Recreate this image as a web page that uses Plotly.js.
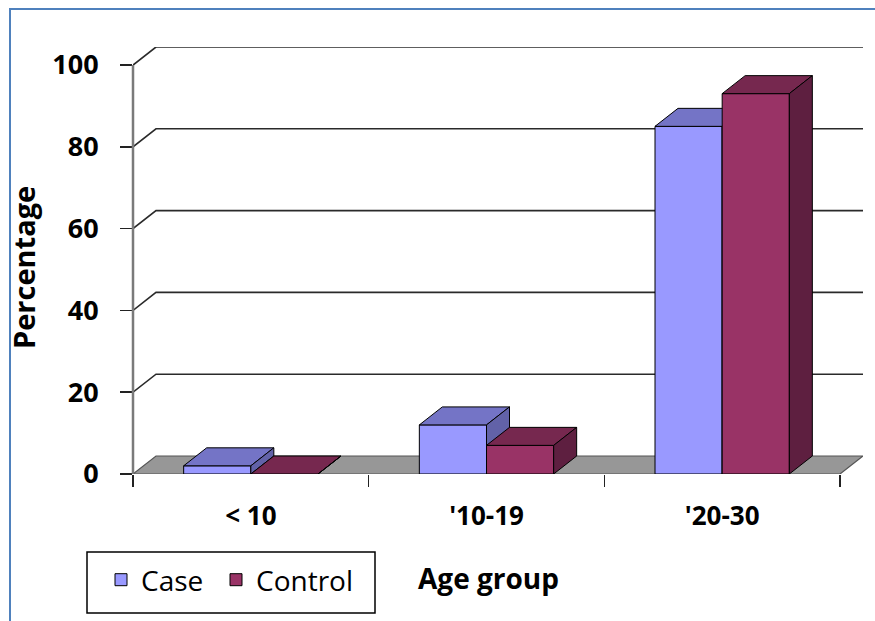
<!DOCTYPE html>
<html>
<head>
<meta charset="utf-8">
<script src="https://cdn.plot.ly/plotly-3.0.1.min.js"></script>
<style>html,body{margin:0;padding:0;background:#fff;}#chart{width:875px;height:621px;}</style>
</head>
<body>
<div id="chart"></div>
<script>
// ---- data ----
const categories = ['< 10', "'10-19", "'20-30"];
const caseValues = [2, 12, 85];
const controlValues = [0, 7, 93];
const yTickValues = [0, 20, 40, 60, 80, 100];
const seriesNames = ['Case', 'Control'];

// ---- styling / geometry constants ----
const W = 875, H = 621;
const M = {l: 133, r: 12, t: 47, b: 147};
const barW = 0.285;        // bar width in category units
const dx = 0.0976;         // depth offset (category units)
const dy = 4.4;            // depth offset (value units)
const FONT = '"Open Sans", "Noto Sans", sans-serif';
const colors = {
  Case:    {front: '#9999FF', top: '#7474C6', side: '#6262A8'},
  Control: {front: '#993366', top: '#76284F', side: '#5E1F40'}
};
const xIdx = categories.map((c, i) => i);
const xMin = -0.5, xMax = categories.length - 0.5 + dx;
const yMax = yTickValues[yTickValues.length - 1] + dy;

function faces(values, offset) {
  const top = {x: [], y: []}, side = {x: [], y: []};
  values.forEach((v, i) => {
    const x0 = i + offset, x1 = x0 + barW;
    top.x.push(x0, x1, x1 + dx, x0 + dx, x0, null);
    top.y.push(v, v, v + dy, v + dy, v, null);
    side.x.push(x1, x1, x1 + dx, x1 + dx, x1, null);
    side.y.push(0, v, v + dy, dy, 0, null);
  });
  return {top, side};
}

function seriesTraces(name, values, offset, xa, ya, legendWidth) {
  const c = colors[name];
  const f = faces(values, offset);
  const bar = {type: 'bar', name: name, x: xIdx, y: values, offset: offset, width: barW,
     xaxis: xa, yaxis: ya, marker: {color: c.front, line: {color: '#000', width: 1}},
     hoverinfo: 'skip'};
  if (legendWidth) bar.legendwidth = legendWidth;
  return [
    bar,
    {type: 'scatter', mode: 'lines', x: f.top.x, y: f.top.y, fill: 'toself', fillcolor: c.top,
     line: {color: '#000', width: 1}, xaxis: xa, yaxis: ya, showlegend: false, hoverinfo: 'skip'},
    {type: 'scatter', mode: 'lines', x: f.side.x, y: f.side.y, fill: 'toself', fillcolor: c.side,
     line: {color: '#000', width: 1}, xaxis: xa, yaxis: ya, showlegend: false, hoverinfo: 'skip'}
  ];
}

const traces = [].concat(
  seriesTraces(seriesNames[0], caseValues, -barW, 'x', 'y', 70),
  seriesTraces(seriesNames[1], controlValues, 0, 'x2', 'y2', null)
);

const pw = W - M.l - M.r, ph = H - M.t - M.b;
const px = v => (v - M.l) / pw, py = v => (H - M.b - v) / ph;

// gridlines on back wall + side wall diagonals, floor
const shapes = [];
const nCat = categories.length;
shapes.push({type: 'path', xref: 'x', yref: 'y', layer: 'below',
  path: `M ${xMin} 0 L ${nCat - 0.5} 0 L ${nCat - 0.5 + dx} ${dy} L ${xMin + dx} ${dy} Z`,
  fillcolor: '#979797', line: {color: '#555', width: 1.2}});
yTickValues.filter(v => v > 0).forEach(v => {
  shapes.push({type: 'path', xref: 'x', yref: 'y', layer: 'below',
    path: `M ${xMin} ${v} L ${xMin + dx} ${v + dy} L ${xMax} ${v + dy}`,
    line: {color: '#2a2a2a', width: 1.6}});
});
// front vertical axis line
shapes.push({type: 'line', xref: 'paper', yref: 'y', x0: 0, x1: 0, y0: 0, y1: 100,
  line: {color: '#7a7a7a', width: 2.5}, layer: 'above'});
// outer blue frame
shapes.push({type: 'rect', xref: 'paper', yref: 'paper',
  x0: px(10), x1: px(900), y0: py(9), y1: py(700),
  line: {color: '#4F81BD', width: 2}, fillcolor: 'rgba(0,0,0,0)'});
// legend frame
shapes.push({type: 'rect', xref: 'paper', yref: 'paper',
  x0: px(87), x1: px(375), y0: py(552), y1: py(613),
  line: {color: '#000', width: 1.5}, fillcolor: 'rgba(0,0,0,0)'});

const layout = {
  width: W, height: H,
  margin: M,
  paper_bgcolor: '#fff', plot_bgcolor: 'rgba(0,0,0,0)',
  font: {family: FONT, color: '#000'},
  showlegend: true,
  xaxis: {
    range: [xMin, xMax], tickvals: xIdx, ticktext: categories,
    ticks: '', showgrid: false, zeroline: false, showline: false,
    tickfont: {size: 26, weight: 'bold', family: FONT},
    ticklabelstandoff: 24,
    minor: {tickvals: [-0.5, 0.5, 1.5, 2.5], ticks: 'outside', ticklen: 12,
            tickcolor: '#222', tickwidth: 1.5, showgrid: false},
    fixedrange: true
  },
  yaxis: {
    range: [0, yMax], tickvals: yTickValues, ticks: 'outside', ticklen: 12,
    tickcolor: '#222', tickwidth: 1.5,
    showgrid: false, zeroline: false, showline: false,
    tickfont: {size: 27, weight: 'bold', family: FONT},
    ticklabelstandoff: 16,
    fixedrange: true
  },
  xaxis2: {overlaying: 'x', matches: 'x', visible: false},
  yaxis2: {overlaying: 'y', matches: 'y', visible: false},
  legend: {
    orientation: 'h', x: px(101), y: py(555), xanchor: 'left', yanchor: 'top',
    borderwidth: 0, bgcolor: 'rgba(0,0,0,0)',
    font: {size: 28, family: FONT}
  },
  shapes: shapes,
  annotations: [
    {text: 'Age group', xref: 'paper', yref: 'paper', x: px(488), y: py(578),
     xanchor: 'center', yanchor: 'middle', showarrow: false,
     font: {size: 28, weight: 'bold', family: FONT}},
    {text: 'Percentage', xref: 'paper', yref: 'paper', x: px(23), y: py(268),
     xanchor: 'center', yanchor: 'middle', showarrow: false, textangle: -90,
     font: {size: 29, weight: 'bold', family: FONT}}
  ]
};

Plotly.newPlot('chart', traces, layout, {displayModeBar: false, staticPlot: true});
</script>
</body>
</html>
